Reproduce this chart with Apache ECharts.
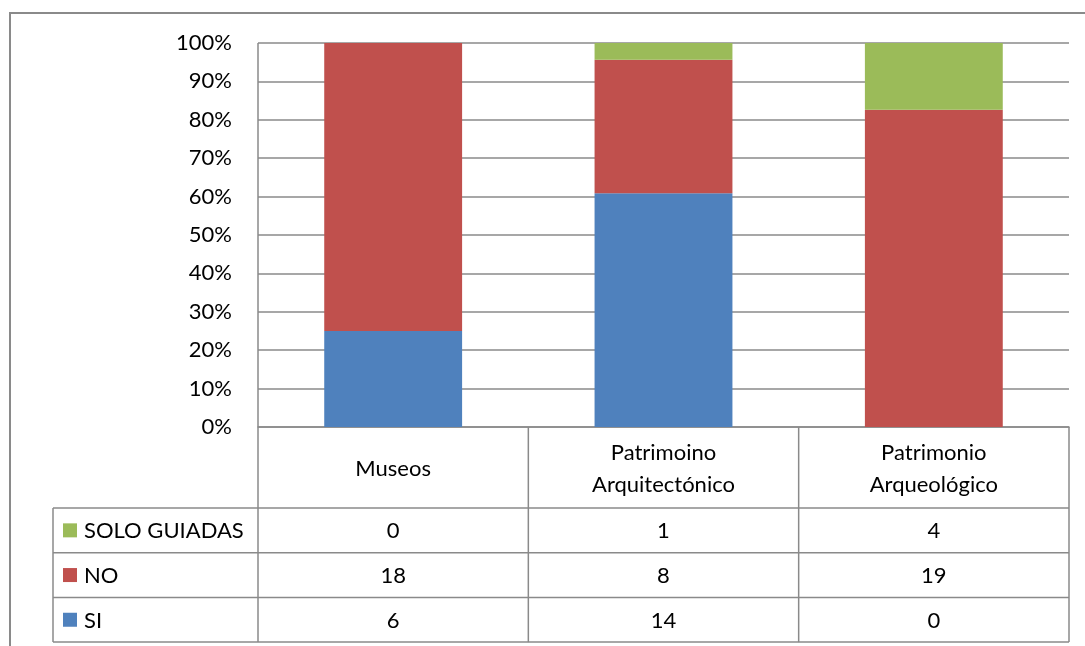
<!DOCTYPE html>
<html>
<head>
<meta charset="utf-8">
<script src="https://cdn.jsdelivr.net/npm/echarts@6/dist/echarts.min.js"></script>
<style>
  html, body { margin: 0; padding: 0; background: #fff; }
  #chart { width: 1085px; height: 646px; }
</style>
</head>
<body>
<div id="chart"></div>
<script>
// data
var categories = ['Museos', 'Patrimoino\nArquitectónico', 'Patrimonio\nArqueológico'];
var seriesNames = ['SI', 'NO', 'SOLO GUIADAS'];
var siValues = [6, 14, 0];
var noValues = [18, 8, 19];
var soloValues = [0, 1, 4];
var seriesColors = ['#4F81BD', '#C0504D', '#9BBB59'];

var FONT = 'Lato, "Liberation Sans", sans-serif';
var FSIZE = 22;
var lineColor = '#8a8a8a';

var totals = categories.map(function (c, i) {
  return siValues[i] + noValues[i] + soloValues[i];
});
function pct(arr) {
  return arr.map(function (v, i) { return totals[i] ? v / totals[i] * 100 : 0; });
}

var rawSeries = [siValues, noValues, soloValues];

var chart = echarts.init(document.getElementById('chart'));
var option = {
  animation: false,
  grid: { left: 258, right: 16, top: 43, bottom: 219 },
  xAxis: {
    type: 'category',
    data: categories,
    axisLine: { show: true, lineStyle: { color: lineColor, width: 1.5 } },
    axisTick: { show: false },
    axisLabel: { show: false }
  },
  yAxis: {
    type: 'value',
    min: 0, max: 100, interval: 10,
    axisLine: { show: false },
    axisTick: { show: false },
    splitLine: { lineStyle: { color: lineColor, width: 1.5 } },
    axisLabel: {
      formatter: '{value}%',
      margin: 26,
      color: '#000',
      fontSize: FSIZE,
      fontFamily: FONT
    }
  },
  series: rawSeries.map(function (vals, k) {
    return {
      name: seriesNames[k],
      type: 'bar',
      stack: 'total',
      barWidth: '51%',
      itemStyle: { color: seriesColors[k] },
      data: pct(vals)
    };
  })
};
chart.setOption(option);

// data table below the plot
var g = [];
function line(x1, y1, x2, y2) {
  g.push({ type: 'line', silent: true, shape: { x1: x1, y1: y1, x2: x2, y2: y2 },
           style: { stroke: lineColor, lineWidth: 1.5 } });
}
function text(str, x, y, align) {
  g.push({ type: 'text', silent: true,
           style: { text: str, x: x, y: y, align: align || 'center', verticalAlign: 'middle',
                    fontSize: FSIZE, fontFamily: FONT, fill: '#000', lineHeight: 32 } });
}

var yTop = chart.convertToPixel({ yAxisIndex: 0 }, 100);
var yBase = chart.convertToPixel({ yAxisIndex: 0 }, 0);
var c0 = chart.convertToPixel({ xAxisIndex: 0 }, categories[0]);
var c1 = chart.convertToPixel({ xAxisIndex: 0 }, categories[1]);
var band = c1 - c0;
var xLeft = c0 - band / 2;
var xRight = xLeft + band * categories.length;
var legendLeft = 53;
var headerBottom = yBase + 81;
var rowH = 44.7;
var rowOrder = [2, 1, 0]; // SOLO GUIADAS, NO, SI
var tableBottom = headerBottom + rowH * rowOrder.length;

// outer frame
g.push({ type: 'rect', silent: true, shape: { x: 10, y: 13, width: 1200, height: 800 },
         style: { fill: 'none', stroke: lineColor, lineWidth: 2 } });

// vertical lines
line(xLeft, yTop, xLeft, tableBottom);
for (var i = 1; i <= categories.length; i++) {
  line(xLeft + band * i, yBase, xLeft + band * i, tableBottom);
}
line(legendLeft, headerBottom, legendLeft, tableBottom);
// horizontal lines
for (var r = 0; r <= rowOrder.length; r++) {
  var yy = headerBottom + rowH * r;
  line(legendLeft, yy, xRight, yy);
}
// header
categories.forEach(function (c, i) {
  text(c, xLeft + band * (i + 0.5), (yBase + headerBottom) / 2 + 1);
});
// rows
rowOrder.forEach(function (k, r) {
  var cy = headerBottom + rowH * (r + 0.5);
  g.push({ type: 'rect', silent: true, shape: { x: 63, y: cy - 7, width: 14, height: 14 },
           style: { fill: seriesColors[k] } });
  text(seriesNames[k], 84, cy + 1, 'left');
  rawSeries[k].forEach(function (v, i) {
    text(String(v), xLeft + band * (i + 0.5), cy + 1);
  });
});

chart.setOption({ graphic: g });
</script>
</body>
</html>
